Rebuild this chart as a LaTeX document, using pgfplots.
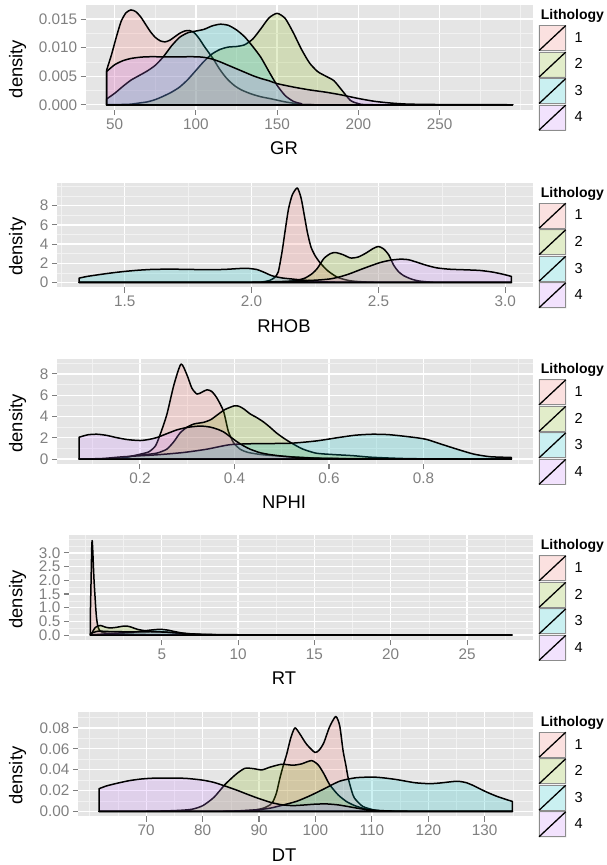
\documentclass[border=0pt]{standalone}
\usepackage{pgfplots}
\pgfplotsset{compat=1.18}
\usepackage{fontspec}
\setmainfont{Liberation Sans}
\definecolor{cA}{HTML}{F8766D}
\definecolor{cB}{HTML}{7CAE00}
\definecolor{cC}{HTML}{00BFC4}
\definecolor{cD}{HTML}{C77CFF}
\definecolor{bgc}{HTML}{E5E5E5}
\definecolor{mnc}{HTML}{F2F2F2}
\definecolor{tkc}{HTML}{7F7F7F}
\definecolor{keybg}{HTML}{F2F2F2}
\definecolor{keybd}{HTML}{8C8C8C}
\pgfplotsset{
  ggp/.style={
    scale only axis, anchor=south west,
    axis background/.style={fill=bgc},
    axis line style={draw=none},
    grid=both,
    major grid style={draw=white, line width=1.3pt},
    minor grid style={draw=mnc, line width=0.65pt},
    tick align=outside, tick pos=left,
    major tick length=5.5pt, minor tick length=0pt,
    tick style={draw=tkc, line width=1.1pt},
    ticklabel style={font=\fontsize{15.3}{16}\selectfont, text=tkc},
    label style={font=\fontsize{18.4}{19}\selectfont, text=black},
    every axis x label/.append style={anchor=center},
    every axis y label/.append style={anchor=center},
    scaled ticks=false,
    /pgf/number format/assume math mode=true,
    legend style={at={(1,1)}, anchor=north west, xshift=5.3pt, yshift=-19.8pt,
      draw=none, fill=none, inner sep=0pt, outer sep=0pt, row sep=0pt, column sep=8pt,
      font=\fontsize{14.5}{15}\selectfont, nodes={inner sep=0pt, outer sep=0pt}},
    legend cell align=left,
    legend image code/.code={
      \fill[keybg] (0pt,-12.5pt) rectangle (26.7pt,12.5pt);
      \path[##1, draw=none] (0pt,-12.5pt) rectangle (26.7pt,12.5pt);
      \draw[keybd, line width=0.9pt, fill=none] (0pt,-12.5pt) rectangle (26.7pt,12.5pt);
      \draw[black, line width=1.3pt, fill=none] (0pt,-12.5pt) -- (26.7pt,12.5pt);
    },
  },
  dens/.style={draw=black, line width=1.5pt, fill=#1, fill opacity=0.2, smooth, tension=0.4, line join=round},
}
\newcommand{\legtitle}[1]{\node[anchor=base west, inner sep=0pt, font=\bfseries\fontsize{14}{15}\selectfont] at ([xshift=7.7pt,yshift=-14.3pt]#1.north east) {Lithology};}
\begin{document}
\begin{tikzpicture}
\path[use as bounding box] (0pt,0pt) rectangle (607pt,-865pt);
% ---------------- GR ----------------
\begin{axis}[ggp, name=ax1, at={(86.2pt,-109.5pt)}, width=446.8pt, height=104.5pt,
  xmin=32.5, xmax=307.5, ymin=-0.00083, ymax=0.01746,
  xtick={50,100,150,200,250}, xticklabels={50,100,150,200,250},
  ytick={0,0.005,0.01,0.015}, yticklabels={0.000,0.005,0.010,0.015},
  minor xtick={75,125,175,225,275,300}, minor ytick={0.0025,0.0075,0.0125},
  xlabel={GR}, ylabel={density},
  xlabel style={at={(axis description cs:0.4427,-0.3684)}},
  ylabel style={at={(axis description cs:-0.1535,0.387)}}]
\addplot[dens=cA] coordinates {(45,0.0060)(48,0.0087)(51,0.0118)(54,0.0146)(57,0.0161)(60,0.0166)(63,0.0163)(66,0.0154)(69,0.0141)(72,0.0128)(75,0.0118)(78,0.0112)(81,0.0110)(84,0.0113)(87,0.0119)(90,0.0125)(93,0.0129)(96,0.0130)(99,0.0126)(102,0.0116)(105,0.0103)(108,0.0091)(111,0.0079)(114,0.0065)(117,0.0053)(120,0.0043)(124,0.0033)(128,0.0026)(134,0.0019)(140,0.0014)(147,0.0010)(155,0.0005)(165,0.0001)(175,0)(295,0)} \closedcycle;
\addlegendentry{1}
\addplot[dens=cB] coordinates {(45,0)(55,0.00005)(60,0.0001)(65,0.0003)(70,0.0005)(75,0.0009)(80,0.0015)(85,0.0022)(90,0.0031)(95,0.0044)(100,0.0060)(105,0.0076)(110,0.0089)(115,0.0097)(120,0.0101)(125,0.0102)(130,0.0105)(135,0.0115)(140,0.0133)(145,0.0152)(150,0.0160)(155,0.0151)(160,0.0126)(165,0.0097)(170,0.0073)(175,0.0058)(180,0.0050)(185,0.0042)(190,0.0025)(195,0.0008)(200,0.0002)(210,0)(295,0)} \closedcycle;
\addlegendentry{2}
\addplot[dens=cC] coordinates {(45,0.0010)(50,0.0020)(55,0.0032)(60,0.0043)(65,0.0051)(70,0.0059)(75,0.0069)(80,0.0084)(85,0.0103)(90,0.0118)(95,0.0126)(100,0.0129)(105,0.0132)(110,0.0138)(115,0.0141)(120,0.0139)(125,0.0131)(130,0.0119)(135,0.0102)(140,0.0083)(145,0.0058)(150,0.0034)(155,0.0016)(160,0.0006)(165,0.0002)(172,0)(295,0)} \closedcycle;
\addlegendentry{3}
\addplot[dens=cD] coordinates {(45,0.0058)(50,0.0070)(55,0.0077)(60,0.0081)(65,0.0083)(70,0.0084)(80,0.0084)(90,0.0084)(100,0.0084)(105,0.0083)(110,0.0080)(115,0.0075)(120,0.0069)(125,0.0063)(130,0.0057)(135,0.0051)(140,0.0046)(145,0.0042)(150,0.0037)(160,0.0031)(170,0.0026)(180,0.0022)(190,0.0017)(200,0.0011)(210,0.0006)(220,0.0003)(230,0.00012)(245,0.00005)(265,0.00003)(280,0.00001)(295,0)} \closedcycle;
\addlegendentry{4}
\end{axis}
\legtitle{ax1}
% ---------------- RHOB ----------------
\begin{axis}[ggp, name=ax2, at={(57.5pt,-287.2pt)}, width=475.5pt, height=104.5pt,
  xmin=1.2348, xmax=3.1092, ymin=-0.495, ymax=10.395,
  xtick={1.5,2,2.5,3}, xticklabels={1.5,2.0,2.5,3.0},
  ytick={0,2,4,6,8}, yticklabels={0,2,4,6,8},
  minor xtick={1.25,1.75,2.25,2.75}, minor ytick={1,3,5,7,9,10},
  xlabel={RHOB}, ylabel={density},
  xlabel style={at={(axis description cs:0.4763,-0.3684)}},
  ylabel style={at={(axis description cs:-0.0839,0.387)}}]
\addplot[dens=cA] coordinates {(1.32,0)(2.00,0)(2.04,0.05)(2.07,0.2)(2.09,0.5)(2.105,1.1)(2.12,3.2)(2.13,5.0)(2.145,7.6)(2.16,9.1)(2.18,9.85)(2.195,8.8)(2.207,7.1)(2.22,5.2)(2.234,3.7)(2.25,2.8)(2.27,2.05)(2.30,1.22)(2.34,0.52)(2.39,0.17)(2.45,0.05)(2.55,0)(3.024,0)} \closedcycle;
\addlegendentry{1}
\addplot[dens=cB] coordinates {(1.32,0)(2.05,0)(2.12,0.05)(2.17,0.18)(2.21,0.45)(2.24,0.95)(2.26,1.5)(2.285,2.5)(2.31,3.0)(2.33,3.12)(2.36,2.9)(2.39,2.55)(2.42,2.65)(2.45,3.05)(2.48,3.55)(2.50,3.75)(2.52,3.5)(2.54,2.9)(2.56,1.8)(2.58,1.1)(2.60,0.7)(2.63,0.35)(2.66,0.15)(2.70,0.05)(2.75,0)(3.024,0)} \closedcycle;
\addlegendentry{2}
\addplot[dens=cC] coordinates {(1.32,0.45)(1.35,0.62)(1.40,0.82)(1.45,1.00)(1.50,1.15)(1.55,1.27)(1.60,1.35)(1.65,1.38)(1.70,1.38)(1.75,1.36)(1.80,1.34)(1.85,1.33)(1.90,1.37)(1.95,1.45)(1.98,1.48)(2.02,1.35)(2.05,1.05)(2.08,0.7)(2.12,0.47)(2.17,0.33)(2.22,0.2)(2.27,0.09)(2.32,0.03)(2.40,0)(3.024,0)} \closedcycle;
\addlegendentry{3}
\addplot[dens=cD] coordinates {(1.32,0)(1.90,0)(2.00,0.02)(2.10,0.08)(2.20,0.18)(2.26,0.25)(2.31,0.37)(2.35,0.6)(2.39,0.94)(2.43,1.35)(2.47,1.74)(2.51,2.1)(2.55,2.33)(2.59,2.43)(2.62,2.36)(2.65,2.12)(2.69,1.78)(2.73,1.52)(2.78,1.38)(2.84,1.32)(2.90,1.25)(2.95,1.08)(2.99,0.86)(3.024,0.63)} \closedcycle;
\addlegendentry{4}
\end{axis}
\legtitle{ax2}
% ---------------- NPHI ----------------
\begin{axis}[ggp, name=ax3, at={(57.5pt,-463.8pt)}, width=475.5pt, height=104.5pt,
  xmin=0.0257, xmax=1.0317, ymin=-0.446, ymax=9.366,
  xtick={0.2,0.4,0.6,0.8}, xticklabels={0.2,0.4,0.6,0.8},
  ytick={0,2,4,6,8}, yticklabels={0,2,4,6,8},
  minor xtick={0.1,0.3,0.5,0.7,0.9,1.0}, minor ytick={1,3,5,7,9},
  xlabel={NPHI}, ylabel={density},
  xlabel style={at={(axis description cs:0.4763,-0.3684)}},
  ylabel style={at={(axis description cs:-0.0839,0.387)}}]
\addplot[dens=cA] coordinates {(0.0714,0)(0.15,0.01)(0.187,0.31)(0.201,0.46)(0.219,0.68)(0.233,1.24)(0.243,2.32)(0.257,4.18)(0.272,6.97)(0.287,8.92)(0.2996,7.9)(0.310,6.66)(0.321,6.1)(0.332,6.3)(0.342,6.5)(0.352,6.35)(0.363,5.73)(0.377,4.49)(0.387,2.63)(0.398,1.55)(0.412,0.93)(0.429,0.62)(0.461,0.40)(0.517,0.22)(0.573,0.09)(0.65,0.02)(0.75,0)(0.986,0)} \closedcycle;
\addlegendentry{1}
\addplot[dens=cB] coordinates {(0.0714,0)(0.15,0.03)(0.187,0.31)(0.208,0.40)(0.236,0.56)(0.257,0.93)(0.272,1.64)(0.285,2.45)(0.30,3.0)(0.315,3.3)(0.335,3.45)(0.35,3.7)(0.363,4.12)(0.38,4.65)(0.40,5.0)(0.41,4.95)(0.42,4.7)(0.433,4.25)(0.447,3.9)(0.461,3.5)(0.475,3.0)(0.489,2.45)(0.503,2.0)(0.517,1.6)(0.531,1.25)(0.545,0.93)(0.573,0.55)(0.61,0.42)(0.65,0.32)(0.69,0.17)(0.75,0.06)(0.80,0.02)(0.86,0)(0.986,0)} \closedcycle;
\addlegendentry{2}
\addplot[dens=cC] coordinates {(0.0714,0)(0.12,0.05)(0.166,0.22)(0.236,0.40)(0.293,0.62)(0.342,0.93)(0.391,1.35)(0.447,1.45)(0.517,1.48)(0.573,1.7)(0.62,2.02)(0.656,2.24)(0.691,2.33)(0.727,2.29)(0.777,2.05)(0.806,1.85)(0.834,1.45)(0.87,0.94)(0.906,0.47)(0.941,0.22)(0.986,0.15)} \closedcycle;
\addlegendentry{3}
\addplot[dens=cD] coordinates {(0.0714,2.05)(0.09,2.28)(0.110,2.33)(0.13,2.22)(0.152,2.0)(0.175,1.82)(0.201,1.74)(0.22,1.85)(0.236,2.02)(0.258,2.4)(0.279,2.75)(0.30,2.97)(0.321,3.08)(0.335,3.08)(0.349,3.0)(0.363,2.82)(0.377,2.55)(0.391,2.1)(0.405,1.64)(0.419,1.25)(0.433,0.93)(0.454,0.6)(0.475,0.42)(0.50,0.28)(0.525,0.18)(0.56,0.1)(0.60,0.06)(0.70,0.03)(0.80,0.01)(0.986,0)} \closedcycle;
\addlegendentry{4}
\end{axis}
\legtitle{ax3}
% ---------------- RT ----------------
\begin{axis}[ggp, name=ax4, at={(69.3pt,-639.8pt)}, width=463.7pt, height=104.5pt,
  xmin=-1.061, xmax=29.321, ymin=-0.1735, ymax=3.6435,
  xtick={5,10,15,20,25}, xticklabels={5,10,15,20,25},
  ytick={0,0.5,1,1.5,2,2.5,3}, yticklabels={0.0,0.5,1.0,1.5,2.0,2.5,3.0},
  minor xtick={0,2.5,7.5,12.5,17.5,22.5,27.5}, minor ytick={0.25,0.75,1.25,1.75,2.25,2.75,3.25,3.5},
  xlabel={RT}, ylabel={density},
  xlabel style={at={(axis description cs:0.463,-0.3684)}},
  ylabel style={at={(axis description cs:-0.1115,0.387)}}]
\addplot[dens=cA] coordinates {(0.32,0.8)(0.37,2.1)(0.41,3.2)(0.44,3.45)(0.48,3.05)(0.52,2.5)(0.56,2.0)(0.62,1.45)(0.67,1.0)(0.72,0.65)(0.78,0.4)(0.85,0.25)(0.95,0.15)(1.1,0.1)(1.5,0.06)(2.5,0.04)(4,0.02)(7,0.008)(10,0.002)(14,0)(27.94,0)} \closedcycle;
\addlegendentry{1}
\addplot[dens=cB] coordinates {(0.32,0)(0.45,0.1)(0.6,0.25)(0.8,0.33)(1.0,0.35)(1.3,0.29)(1.6,0.26)(2.0,0.28)(2.4,0.32)(2.7,0.33)(3.0,0.29)(3.4,0.21)(4.0,0.15)(4.6,0.13)(5.2,0.11)(6,0.07)(7,0.03)(8,0.01)(10,0.002)(12,0)(27.94,0)} \closedcycle;
\addlegendentry{2}
\addplot[dens=cC] coordinates {(0.32,0)(1,0.03)(2,0.07)(3,0.1)(3.8,0.15)(4.4,0.19)(4.9,0.21)(5.4,0.18)(5.9,0.12)(6.5,0.06)(7.2,0.03)(8,0.015)(10,0.005)(14,0.001)(20,0)(27.94,0)} \closedcycle;
\addlegendentry{3}
\addplot[dens=cD] coordinates {(0.32,0.05)(0.8,0.14)(1.5,0.13)(2.5,0.12)(3.5,0.12)(4.5,0.12)(5.5,0.1)(6.5,0.06)(7.5,0.03)(9,0.015)(12,0.006)(16,0.003)(20,0.002)(24,0.001)(27.94,0)} \closedcycle;
\addlegendentry{4}
\end{axis}
\legtitle{ax4}
% ---------------- DT ----------------
\begin{axis}[ggp, name=ax5, at={(78.4pt,-816.2pt)}, width=454.6pt, height=104.5pt,
  xmin=57.977, xmax=138.563, ymin=-0.00455, ymax=0.0955,
  xtick={70,80,90,100,110,120,130}, xticklabels={70,80,90,100,110,120,130},
  ytick={0,0.02,0.04,0.06,0.08}, yticklabels={0.00,0.02,0.04,0.06,0.08},
  minor xtick={60,65,75,85,95,105,115,125,135}, minor ytick={0.01,0.03,0.05,0.07,0.09},
  xlabel={DT}, ylabel={density},
  xlabel style={at={(axis description cs:0.4523,-0.3684)}},
  ylabel style={at={(axis description cs:-0.1337,0.387)}}]
\addplot[dens=cA] coordinates {(61.64,0)(80,0)(86,0.0004)(89,0.0012)(90.8,0.0032)(92,0.0065)(92.5,0.0097)(93.1,0.018)(93.7,0.032)(94.3,0.044)(94.9,0.0548)(95.6,0.07)(96.35,0.08)(97.2,0.0745)(98.4,0.0645)(99.9,0.0565)(100.7,0.059)(101.5,0.066)(102.5,0.081)(103.6,0.0909)(104.3,0.082)(104.9,0.058)(105.4,0.044)(105.8,0.032)(106.4,0.02)(106.9,0.0129)(108.4,0.0048)(110.8,0.001)(114,0.0001)(120,0)(134.9,0)} \closedcycle;
\addlegendentry{1}
\addplot[dens=cB] coordinates {(61.64,0)(70,0.0002)(75,0.0008)(78,0.002)(80,0.0055)(82,0.0135)(84,0.026)(86,0.036)(87.5,0.0413)(89,0.041)(90.5,0.0398)(92,0.0425)(94,0.0452)(96,0.0443)(97.5,0.0455)(99.3,0.0487)(100.5,0.0445)(101.5,0.036)(102.5,0.0258)(104,0.016)(105.5,0.0095)(107,0.0055)(109,0.0022)(111,0.0008)(114,0.0002)(120,0)(134.9,0)} \closedcycle;
\addlegendentry{2}
\addplot[dens=cC] coordinates {(61.64,0)(80,0)(86,0.0005)(90,0.0018)(92,0.0032)(94,0.0058)(96.65,0.0097)(99,0.015)(101.3,0.021)(104.3,0.029)(107.2,0.0323)(110.2,0.0329)(112,0.0322)(114.3,0.0306)(116,0.029)(117.8,0.0274)(120.2,0.0266)(122,0.0272)(124.5,0.0287)(125.5,0.0288)(126.7,0.0276)(128,0.0248)(129.1,0.0218)(130.5,0.0182)(132.1,0.0146)(133.5,0.012)(134.9,0.0096)} \closedcycle;
\addlegendentry{3}
\addplot[dens=cD] coordinates {(61.64,0.0218)(63,0.0245)(65,0.0272)(67,0.0295)(69,0.031)(71,0.0318)(74,0.032)(77,0.0317)(80,0.0300)(82,0.0278)(84,0.0243)(86,0.0205)(88,0.0163)(90,0.0123)(92,0.0088)(94,0.0064)(96,0.0056)(98,0.0062)(100,0.0070)(102,0.0072)(104,0.0063)(106,0.0045)(108,0.0026)(110,0.0013)(113,0.0005)(118,0.0001)(125,0)(134.9,0)} \closedcycle;
\addlegendentry{4}
\end{axis}
\legtitle{ax5}
\end{tikzpicture}
\end{document}
